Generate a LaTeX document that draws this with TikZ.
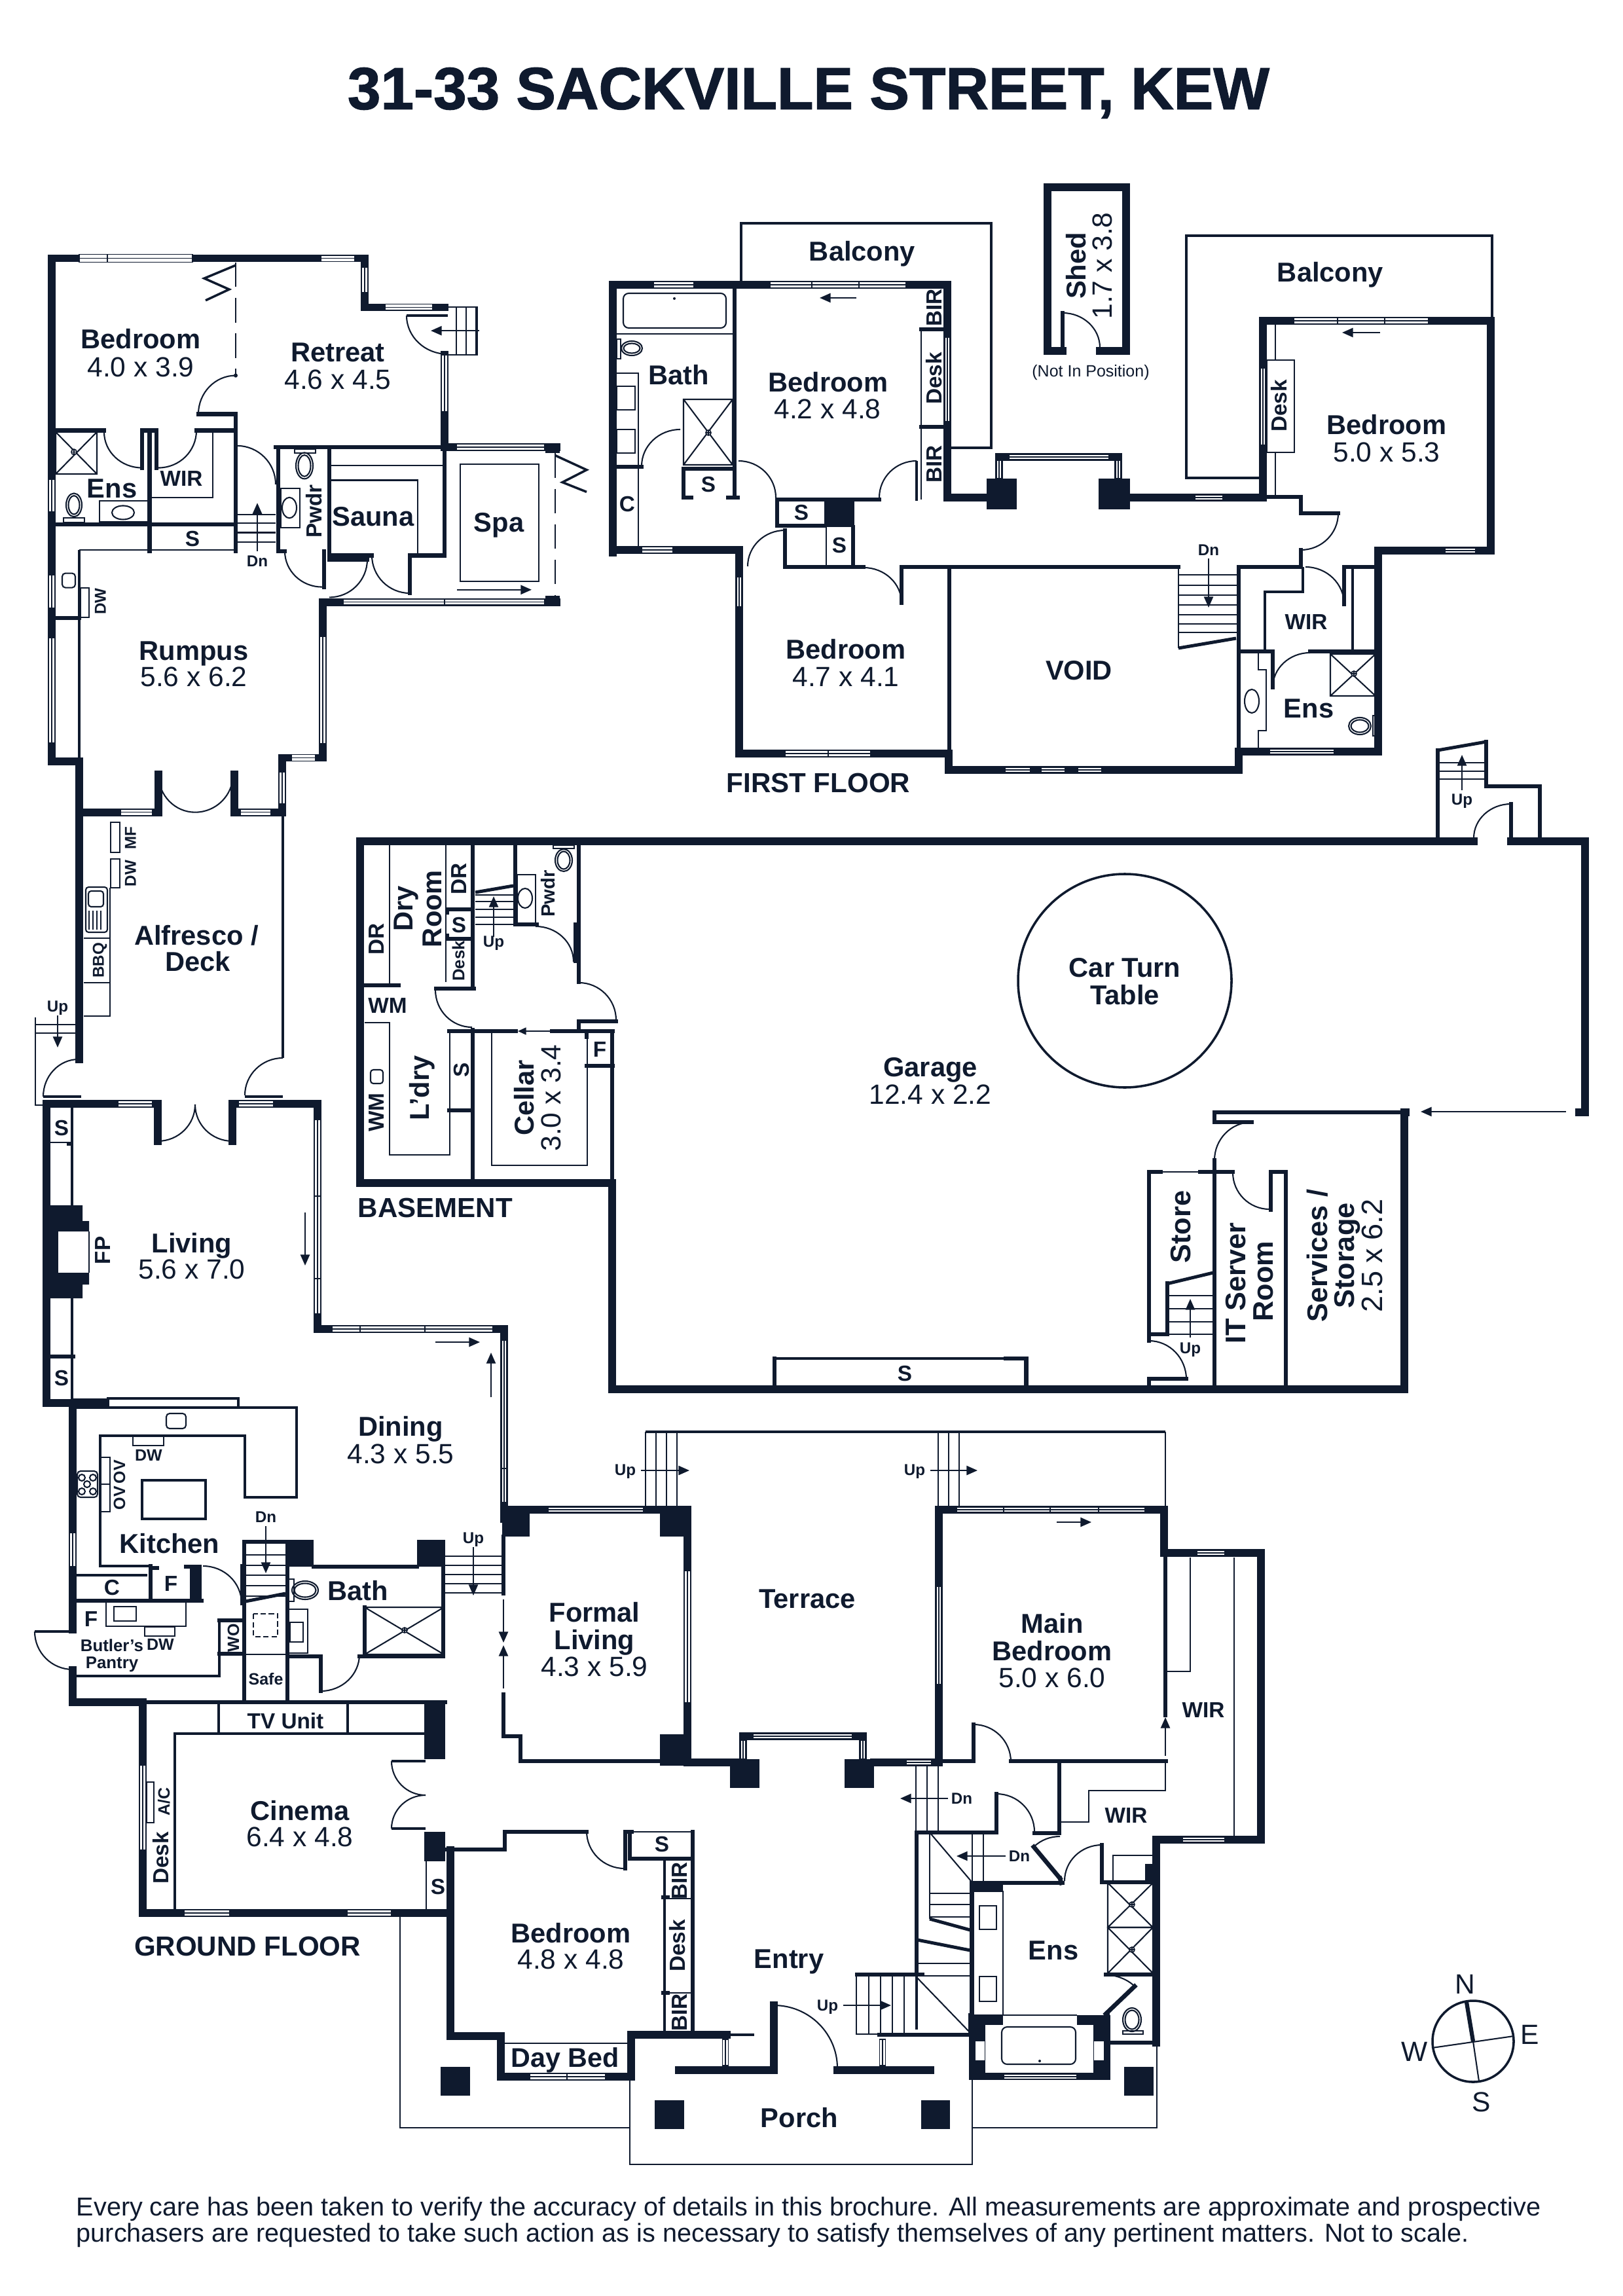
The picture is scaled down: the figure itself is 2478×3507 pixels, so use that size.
\documentclass[tikz,border=0pt]{standalone}
\usepackage{fontspec}
\setmainfont{Liberation Sans}
\newfontfamily\heavyfont[BoldFeatures={FakeBold=1.4}]{Liberation Sans}
\usetikzlibrary{arrows.meta}
\definecolor{ink}{HTML}{0F1A2E}
\tikzset{
  wall/.style={draw=ink,line width=2.8pt,line cap=rect,line join=miter},
  walls/.style={draw=ink,line width=1.6pt,line cap=rect,line join=miter},
  rail/.style={draw=ink,line width=0.85pt},
  hair/.style={draw=ink,line width=0.5pt},
  pane/.style={draw=ink,line width=0.3pt},
  slide/.style={draw=ink,line width=0.5pt,-{Triangle[length=4pt,width=3.4pt]}},
  lab/.style={text=ink,inner sep=0pt,text depth=0pt,text height=0.72*#1pt,font=\fontsize{#1}{#1}\selectfont\bfseries},
  reg/.style={text=ink,inner sep=0pt,text depth=0pt,text height=0.72*#1pt,font=\fontsize{#1}{#1}\selectfont},
  room/.style={lab=10},
  dims/.style={reg=10.2},
  tag/.style={lab=8},
  wee/.style={lab=5.8},
  small/.style={lab=6},
  level/.style={lab=10.1},
  rise/.style={rotate=90}
}
\newcommand{\winH}[4]{\fill[white] ({#1},{#3-#4/2}) rectangle ({#2},{#3+#4/2}); \draw[pane] ({#1},{#3-#4/2}) rectangle ({#2},{#3+#4/2}); \draw[pane] ({#1},#3) -- ({#2},#3);}
\newcommand{\winV}[4]{\fill[white] ({#3-#4/2},{#1}) rectangle ({#3+#4/2},{#2}); \draw[pane] ({#3-#4/2},{#1}) rectangle ({#3+#4/2},{#2}); \draw[pane] (#3,{#1}) -- (#3,{#2});}
\newcommand{\door}[6]{\draw[hair] (#1,#2) .. controls ({#1+.5523*(#3-#5)},{#2+.5523*(#4-#6)}) and ({#3+.5523*(#1-#5)},{#4+.5523*(#2-#6)}) .. (#3,#4);}
\newcommand{\block}[4]{\fill[ink] (#1,#2) rectangle (#3,#4);}
\newcommand{\shower}[6]{\draw[hair] (#1,#2) rectangle (#3,#4) (#1,#2) -- (#3,#4) (#1,#4) -- (#3,#2); \fill[white,draw=ink,line width=0.4pt] (#5,#6) circle [radius=4]; \draw[ink,line width=0.3pt] (#5-4,#6) -- (#5+4,#6) (#5,#6-4) -- (#5,#6+4);}
\newcommand{\loo}[4]{\draw[hair] (#1,#2) ellipse [x radius=#3,y radius=#4]; \draw[hair] (#1,#2) ellipse [x radius=#3-3.5,y radius=#4-3.5];}
\begin{document}
\begin{tikzpicture}[x=0.24pt,y=-0.24pt]
  \useasboundingbox (0,0) rectangle (2478,3507);
  \fill[white] (0,0) rectangle (2478,3507);
  \node[text=ink,inner sep=0pt,text depth=0pt,text height=15.7pt,font=\fontsize{21.8}{22}\selectfont\heavyfont\bfseries] (title) at (1235,134) {31-33 SACKVILLE STREET, KEW};
  \begin{scope}[y=-0.25255pt,yshift=3.77pt]
  \draw[wall] (79,390) -- (557,390) -- (557,461) -- (679,461);
  \draw[wall] (679,530) -- (679,664);
  \draw[wall] (79,390) -- (79,1120) -- (121,1120) -- (121,1194);
  \draw[wall] (121,1194) -- (242,1194) -- (242,1139);
  \draw[wall] (358,1139) -- (358,1194) -- (431,1194) -- (431,1115) -- (493,1115) -- (493,889) -- (850,889);
  \draw[wall] (679,664) -- (850,664);
  \block{833}{659}{855}{673}
  \block{833}{880}{855}{894}
  \draw[walls] (421,664) -- (679,664) -- (679,821) -- (626,821) -- (626,876);
  \draw[walls] (503,664) -- (503,821) -- (568,821);
  \draw[walls] (503,827) -- (561,827);
  \draw[walls] (495,815) -- (495,867);
  \draw[walls] (425,664) -- (425,815) -- (435,815);
  \draw[walls] (303,616) -- (360,616) -- (360,815);
  \draw[walls] (85,640) -- (159,640);
  \draw[walls] (217,694) -- (217,640) -- (239,640) -- (239,694);
  \draw[walls] (300,640) -- (358,640);
  \draw[walls] (228.5,640) -- (228.5,815);
  \draw[walls] (85,776) -- (360,776);
  \draw[hair] (325,642) -- (325,737) -- (230,737);
  \draw[hair] (121,813) -- (358,813);
  \draw[rail] (121,813) -- (121,1115);
  \draw[walls] (85,912) -- (121,912);
  \draw[hair,dashed,dash pattern=on 9pt off 4pt] (360,396) -- (360,560);
  \fill[ink] (360,560) circle [radius=3];
  \draw[rail] (360,400) -- (312,419) -- (350,435) -- (314,451);
  \door{360}{560}{303}{616}{360}{616}
  \door{159}{642}{217}{694}{217}{642}
  \door{300}{640}{242}{694}{242}{640}
  \door{362}{662}{421}{718}{362}{718}
  \door{435}{815}{492}{867}{492}{815}
  \door{568}{821}{626}{876}{626}{821}
  \door{561}{827}{503}{882}{503}{827}
  \door{621}{473}{684}{529}{684}{473}
  \draw[rail] (621,473) -- (684,473);
  \door{242}{1139}{298}{1194}{298}{1139}
  \door{356}{1139}{298}{1194}{298}{1139}
  \shower{85}{642}{148}{703}{113}{671}
  \loo{113}{748}{12}{17}
  \draw[hair] (97,767) rectangle (129,773);
  \draw[hair] (152,742) rectangle (226,772);
  \draw[hair] (188,759) ellipse [x radius=17,y radius=10];
  \foreach \t in {762,774,788,802} \draw[hair] (363,\t) -- (421,\t);
  \draw[slide] (393,815) -- (393,745);
  \loo{465}{691}{13}{19}
  \draw[hair] (450,667) rectangle (482,673);
  \draw[hair] (429,724) rectangle (458,781);
  \draw[hair] (442,752) ellipse [x radius=11,y radius=15];
  \draw[hair] (506,691) -- (676,691);
  \draw[hair] (506,712) -- (638,712) -- (638,820);
  \draw[hair] (703,689) rectangle (823,859);
  \draw[slide] (698,871) -- (812,871);
  \draw[hair,dash pattern=on 9pt off 4pt] (848,673) -- (848,880);
  \draw[rail] (848,676) -- (896,697) -- (859,715) -- (896,729);
  \draw[hair] (684,461) -- (729,461) -- (729,530) -- (684,530);
  \foreach \t in {697,712,727} \draw[hair] (\t,461) -- (\t,530);
  \draw[slide] (732,495) -- (658,495);
  \draw[hair,rounded corners=1.2pt] (95,847) rectangle (115,868);
  \draw[hair] (123,868) rectangle (136,911);
  \winH{121}{294}{390}{11}
  \draw[pane] (164,385) -- (164,395);
  \winH{490}{542}{390}{9}
  \winV{403}{439}{557}{9}
  \winH{588}{661}{461}{9}
  \winV{530}{612}{679}{9}
  \winV{711}{758}{79}{9}
  \winV{850}{897}{79}{9}
  \winV{941}{1093}{79}{9}
  \winV{939}{1094}{493}{9}
  \winH{445}{482}{1115}{9}
  \winV{1136}{1182}{431}{9}
  \winH{184}{233}{1194}{9}
  \winH{367}{414}{1194}{9}
  \winH{697}{832}{664}{8}
  \winH{524}{832}{889}{8}
  \draw[pane] (679,885) -- (679,893);
  \node[room] (bedW) at (215,507) {Bedroom};
  \node[dims] (bedWdims) at (215,547) {4.0 x 3.9};
  \node[room] (retreat) at (516,526) {Retreat};
  \node[dims] (retreatdims) at (516,565) {4.6 x 4.5};
  \node[room] (ensW) at (171,723) {Ens};
  \node[tag] (wirW) at (277,709) {WIR};
  \node[tag] (closetW) at (294,797) {S};
  \node[wee] (dnW) at (393,829) {Dn};
  \node[tag,rise] (pwdrW) at (479,757) {Pwdr};
  \node[room] (sauna) at (570,764) {Sauna};
  \node[room] (spa) at (762,773) {Spa};
  \node[wee,rise] (dwW) at (153,888) {DW};
  \node[room] (rumpus) at (296,959) {Rumpus};
  \node[dims] (rumpusdims) at (296,997) {5.6 x 6.2};
  \end{scope}
  \draw[wall] (121,1240) -- (121,1618);
  \draw[rail] (432,1240) -- (432,1616);
  \draw[wall] (71,1686) -- (241,1686) -- (241,1743);
  \draw[wall] (355,1743) -- (355,1686) -- (485,1686) -- (485,2030) -- (770,2030) -- (770,2320);
  \draw[rail] (374,1675) -- (432,1675);
  \draw[rail] (66,1675) -- (124,1675);
  \door{120}{1618}{66}{1675}{120}{1675}
  \door{432}{1616}{374}{1673}{432}{1673}
  \door{241}{1743}{298}{1687}{241}{1687}
  \door{355}{1743}{298}{1687}{355}{1687}
  \draw[hair] (54,1554) -- (54,1688) -- (66,1688);
  \foreach \t in {1565,1578} \draw[hair] (54,\t) -- (117,\t);
  \draw[slide] (88,1551) -- (88,1600);
  \draw[hair] (128,1552) -- (168,1552) -- (168,1356);
  \draw[hair] (128,1501) -- (168,1501);
  \draw[hair] (128,1433) -- (168,1433);
  \draw[hair] (169,1256) rectangle (183,1302);
  \draw[hair] (169,1312) rectangle (183,1356);
  \draw[hair,rounded corners=1pt] (131,1355) rectangle (164,1424);
  \draw[hair,rounded corners=1pt] (135,1361) rectangle (158,1385);
  \foreach \t in {136,142,148,154} \draw[hair] (\t,1391) -- (\t,1420);
  \draw[wall] (71,1686) -- (71,2143) -- (111,2143) -- (111,2489);
  \draw[wall] (111,2551) -- (111,2600) -- (218,2600) -- (218,2922) -- (688,2922);
  \draw[rail] (110,1692) -- (110,1841);
  \draw[rail] (110,1983) -- (110,2143);
  \draw[hair] (77,1745) -- (110,1745);
  \block{102}{1745}{112}{1750}
  \draw[walls] (77,2072) -- (112,2072);
  \fill[ink] (77,1841) -- (126,1841) -- (126,1865) -- (136,1865) -- (136,1962) -- (126,1962) -- (126,1983) -- (77,1983) -- cycle;
  \fill[white] (89,1881) rectangle (136,1944);
  \draw[ink,line width=0.5pt] (136,1881) -- (136,1944);
  \winH{180}{233}{1686}{9}
  \winH{364}{418}{1686}{9}
  \winV{1710}{2007}{485}{9}
  \draw[pane] (480,1827) -- (490,1827) (480,1953) -- (490,1953);
  \winH{507}{753}{2030}{9}
  \draw[pane] (550,2026) -- (550,2034) (649,2026) -- (649,2034);
  \winV{2047}{2295}{770}{8}
  \draw[pane] (766,2243) -- (774,2243);
  \draw[slide] (466,1852) -- (466,1933);
  \draw[slide] (665,2050) -- (733,2050);
  \draw[slide] (750,2134) -- (750,2066);
  \node[wee,rise] (mfA) at (199,1280) {MF};
  \node[wee,rise] (dwA) at (199,1334) {DW};
  \node[wee,rise] (bbq) at (150,1467) {BBQ};
  \node[wee] (upA) at (88,1537) {Up};
  \node[room] (alfresco) at (300,1428) {Alfresco /};
  \node[room] (deck) at (302,1468) {Deck};
  \node[tag] (closetL) at (94,1722) {S};
  \node[tag] (closetM) at (94,2104) {S};
  \node[tag,rise] (fp) at (156,1910) {FP};
  \node[room] (living) at (293,1898) {Living};
  \node[dims] (livingdims) at (293,1938) {5.6 x 7.0};
  \node[room] (dining) at (612,2178) {Dining};
  \node[dims] (diningdims) at (612,2220) {4.3 x 5.5};
  \draw[rail] (165,2136) rectangle (364,2150);
  \block{111}{2136}{165}{2150}
  \draw[rail] (117,2150) -- (453,2150) -- (453,2287) -- (374,2287) -- (374,2193) -- (153,2193) -- (153,2392) -- (229,2392);
  \draw[hair,rounded corners=1.2pt] (254,2159) rectangle (284,2182);
  \draw[hair] (203,2194) rectangle (250,2208);
  \draw[hair] (153,2226) rectangle (168,2267) (153,2267) rectangle (168,2309);
  \draw[hair,rounded corners=1.2pt] (118,2247) rectangle (149,2287);
  \foreach \cx/\cy in {125/2257,142/2257,133/2267,125/2278,142/2278} \draw[hair] (\cx,\cy) circle [radius=5];
  \draw[rail] (217,2261) rectangle (314,2320);
  \winV{2341}{2393}{111}{9}
  \draw[rail] (117,2406) -- (225,2406);
  \draw[walls] (111,2445) -- (308,2445);
  \draw[walls] (230,2392) -- (230,2445);
  \draw[walls] (230,2395) -- (240,2395);
  \block{281}{2390}{308}{2396}
  \block{290}{2390}{308}{2448}
  \draw[hair] (162,2448) -- (162,2484) -- (284,2484) -- (284,2448);
  \draw[hair] (174,2454) rectangle (208,2476);
  \draw[hair] (221,2485) rectangle (267,2499);
  \draw[rail] (53,2492) -- (111,2492);
  \door{53}{2492}{111}{2550}{111}{2492}
  \draw[rail] (117,2560) -- (335,2560) -- (335,2475);
  \draw[walls] (335,2475) -- (372,2475);
  \draw[walls] (335,2526) -- (372,2526);
  \door{310}{2392}{369}{2449}{310}{2449}
  \draw[walls] (370,2392) -- (370,2449);
  \draw[walls] (373,2355) -- (373,2600);
  \draw[walls] (373,2355) -- (439,2355) -- (439,2600);
  \foreach \t in {2375,2391,2406,2422,2438} \draw[hair] (375,\t) -- (436,\t);
  \draw[ink,line width=1.2pt] (375,2446) -- (436,2434);
  \draw[slide] (406,2331) -- (406,2403);
  \block{436}{2352}{479}{2393}
  \block{637}{2352}{680}{2393}
  \draw[walls] (479,2393) -- (637,2393);
  \draw[walls] (677,2393) -- (677,2530) -- (549,2530);
  \draw[walls] (439,2530) -- (490,2530) -- (490,2583);
  \door{490}{2583}{549}{2527}{490}{2527}
  \draw[hair] (375,2527) -- (436,2527);
  \draw[hair,dash pattern=on 2pt off 1pt] (387,2465) rectangle (424,2500);
  \draw[hair] (440,2412) rectangle (449,2446);
  \loo{466}{2429}{20}{14}
  \draw[hair] (440,2458) rectangle (470,2525);
  \draw[hair] (443,2478) rectangle (463,2508);
  \draw[walls] (557,2527) -- (557,2455);
  \shower{557}{2455}{678}{2527}{618}{2490}
  \foreach \t in {2377,2391,2405,2419,2433} \draw[hair] (680,\t) -- (767,\t);
  \draw[slide] (723,2363) -- (723,2437);
  \draw[walls] (218,2600) -- (680,2600);
  \block{648}{2597}{680}{2687}
  \block{648}{2798}{680}{2843}
  \draw[rail] (267,2916) -- (267,2648) -- (648,2648);
  \draw[rail] (334,2603) -- (334,2648);
  \draw[rail] (531,2603) -- (531,2648);
  \draw[hair] (224,2722) rectangle (235,2784);
  \draw[rail] (598,2690) -- (650,2690);
  \draw[rail] (598,2793) -- (650,2793);
  \door{598}{2690}{650}{2742}{650}{2690}
  \door{598}{2793}{650}{2742}{650}{2793}
  \draw[hair] (651,2843) -- (651,2916);
  \winV{2696}{2826}{218}{9}
  \winH{281}{351}{2922}{9}
  \winH{530}{598}{2922}{9}
  \draw[wall] (688,2826) -- (688,3110) -- (765,3110) -- (765,3172) -- (964,3172) -- (964,3108) -- (1110,3108);
  \draw[rail] (1110,3108) -- (1152,3108);
  \draw[walls] (680,2825) -- (771,2825) -- (771,2798) -- (896,2798);
  \door{896}{2797}{954}{2854}{954}{2797}
  \draw[walls] (955,2854) -- (955,2798) -- (965,2798);
  \draw[walls] (962,2798) -- (962,2839) -- (1058,2839);
  \draw[hair] (965,2798) -- (1058,2798);
  \draw[walls] (1058,2798) -- (1058,3106);
  \draw[rail] (1015,2841) -- (1015,3104);
  \draw[hair] (1015,2900) -- (1058,2900) (1015,3044) -- (1058,3044);
  \draw[walls] (1013,2898) -- (1020,2898) (1013,3044) -- (1020,3044);
  \draw[hair] (771,3121) -- (958,3121);
  \winH{809}{925}{3172}{9}
  \draw[pane] (866,3168) -- (866,3176);
  \draw[rail] (986,2187) -- (1780,2187);
  \draw[hair] (1780,2187) -- (1780,2300);
  \foreach \t in {986,1002,1018,1034,1433,1449,1465} \draw[hair] (\t,2187) -- (\t,2300);
  \draw[slide] (979,2246) -- (1053,2246);
  \draw[slide] (1421,2246) -- (1493,2246);
  \block{767}{2302}{809}{2347}
  \block{1008}{2302}{1055}{2347}
  \block{1008}{2649}{1055}{2697}
  \draw[wall] (770,2306) -- (1050,2306) -- (1050,2692) -- (1130,2692);
  \draw[walls] (769,2347) -- (769,2434);
  \draw[walls] (769,2588) -- (769,2652) -- (795,2652) -- (795,2690) -- (1008,2690);
  \draw[slide] (769,2443) -- (769,2509);
  \draw[slide] (769,2579) -- (769,2513);
  \winH{837}{983}{2306}{8}
  \winV{2399}{2601}{1050}{9}
  \block{1115}{2687}{1160}{2731}
  \block{1290}{2687}{1335}{2731}
  \draw[wall] (1135,2687) -- (1135,2652) -- (1318,2652) -- (1318,2687);
  \draw[wall] (1335,2692) -- (1430,2692);
  \winH{1150}{1302}{2652}{7}
  \winV{2658}{2687}{1135}{7}
  \winV{2658}{2687}{1318}{7}
  \winH{1384}{1423}{2692}{8}
  \draw[wall] (1434,2692) -- (1434,2306) -- (1778,2306) -- (1778,2372) -- (1926,2372) -- (1926,2810) -- (1766,2810) -- (1766,3120);
  \draw[walls] (1780,2377) -- (1780,2620);
  \draw[walls] (1434,2690) -- (1487,2690) -- (1487,2634);
  \draw[walls] (1544,2690) -- (1781,2690);
  \door{1487}{2634}{1544}{2691}{1487}{2691}
  \draw[hair] (1818,2379) -- (1818,2553) -- (1783,2553);
  \draw[hair] (1885,2379) -- (1885,2804);
  \draw[slide] (1780,2682) -- (1780,2623);
  \draw[hair] (1780,2693) -- (1780,2735) -- (1663,2735) -- (1663,2783) -- (1621,2783);
  \draw[walls] (1618,2693) -- (1618,2800) -- (1580,2800);
  \draw[walls] (1400,3016) -- (1400,2799) -- (1522,2799) -- (1522,2740);
  \door{1522}{2740}{1580}{2798}{1522}{2798}
  \foreach \t in {1399,1416,1433} \draw[hair] (\t,2697) -- (\t,2798);
  \draw[slide] (1448,2747) -- (1375,2747);
  \draw[hair] (1420,2799) -- (1483,2873);
  \foreach \t in {1485,1502} \draw[hair] (\t,2800) -- (\t,2873);
  \draw[slide] (1536,2835) -- (1461,2835);
  \draw[hair] (1420,2799) -- (1420,2931);
  \foreach \t in {2892,2909,2928} \draw[hair] (1420,\t) -- (1482,\t);
  \draw[ink,line width=1.2pt] (1420,2931) -- (1482,2948);
  \draw[ink,line width=1.2pt] (1401,2963) -- (1482,2979);
  \foreach \t in {2999,3018} \draw[hair] (1403,\t) -- (1482,\t);
  \draw[hair] (1399,3019) -- (1482,3105);
  \draw[walls] (1484,2876) -- (1623,2876);
  \draw[walls] (1484,2876) -- (1484,3078);
  \block{1482}{2873}{1532}{2889}
  \draw[walls] (1579,2821) -- (1619,2869);
  \draw[hair] (1579,2821) .. controls (1590,2810) and (1605,2805) .. (1619,2805);
  \draw[walls] (1619,2869) -- (1621,2876);
  \door{1626}{2873}{1683}{2818}{1683}{2873}
  \draw[walls] (1683,2818) -- (1683,2875) -- (1762,2875);
  \draw[hair] (1700,2873) -- (1700,2834) -- (1761,2834);
  \block{1749}{2847}{1761}{2873}
  \shower{1692}{2876}{1761}{2944}{1729}{2909}
  \shower{1692}{2944}{1761}{3014}{1729}{2978}
  \draw[walls] (1689,3016) -- (1761,3016);
  \draw[hair] (1689,3016) .. controls (1705,3017) and (1722,3023) .. (1733,3034);
  \draw[walls] (1733,3034) -- (1689,3076);
  \loo{1729}{3085}{14}{18}
  \draw[hair] (1715,3102) rectangle (1746,3107);
  \draw[hair] (1487,2889) rectangle (1532,3078);
  \draw[hair] (1496,2911) rectangle (1522,2947);
  \draw[hair] (1496,3019) rectangle (1522,3057);
  \draw[walls] (1692,3078) -- (1692,3120) -- (1766,3120);
  \fill[ink] (1480,3078) rectangle (1532,3093);
  \fill[ink] (1645,3078) rectangle (1696,3093);
  \fill[ink] (1480,3078) rectangle (1505,3177);
  \fill[ink] (1670,3078) rectangle (1696,3177);
  \fill[ink] (1480,3166) rectangle (1696,3177);
  \draw[hair] (1532,3078) -- (1645,3078);
  \fill[white] (1490,3118) rectangle (1504,3147);
  \fill[white] (1671,3118) rectangle (1686,3147);
  \draw[hair,rounded corners=2pt] (1530,3096) rectangle (1643,3153);
  \fill[ink] (1588,3148) circle [radius=2];
  \winH{1533}{1645}{3172}{8}
  \draw[walls] (1482,3078) -- (1482,3108) -- (1343,3108);
  \draw[walls] (1409,3016) -- (1309,3016);
  \draw[rail] (1400,3016) -- (1400,3100);
  \foreach \t in {1327,1345,1363,1381} \draw[hair] (\t,3018) -- (\t,3107);
  \draw[hair] (1308,3018) -- (1308,3107) -- (1343,3107);
  \draw[slide] (1288,3063) -- (1361,3063);
  \draw[wall] (1037,3162) -- (1182,3162) -- (1182,3063);
  \door{1182}{3063}{1279}{3159}{1182}{3159}
  \draw[wall] (1279,3162) -- (1421,3162);
  \winV{3115}{3155}{1108}{9}
  \winV{3115}{3155}{1348}{9}
  \winV{2423}{2573}{1434}{8}
  \winH{1461}{1749}{2306}{8}
  \foreach \t in {1533,1604,1678} \draw[pane] (\t,2302) -- (\t,2310);
  \winH{1828}{1871}{2372}{8}
  \winH{1806}{1871}{2810}{8}
  \draw[slide] (1614,2325) -- (1667,2325);
  \draw[hair] (962,3177) -- (962,3306) -- (1485,3306) -- (1485,3177);
  \draw[hair] (611,2928) -- (611,3250) -- (962,3250);
  \draw[hair] (1485,3250) -- (1767,3250) -- (1767,3120);
  \block{673}{3157}{718}{3201}
  \block{1000}{3208}{1045}{3252}
  \block{1407}{3208}{1451}{3252}
  \block{1717}{3157}{1762}{3201}
  \node[small] (dw) at (227,2222) {DW};
  \node[small,rise] (ovA) at (182,2248) {OV};
  \node[small,rise] (ovB) at (182,2288) {OV};
  \node[room] (kitchen) at (259,2357) {Kitchen};
  \node[tag] (cupboard) at (171,2424) {C};
  \node[tag] (fridgeA) at (261,2418) {F};
  \node[tag] (fridgeB) at (139,2472) {F};
  \node[small] (dwB) at (245,2511) {DW};
  \node[lab=6.2] (butler) at (171,2513) {Butler’s};
  \node[lab=6.2] (pantry) at (171,2539) {Pantry};
  \node[small,rise] (wo) at (356,2502) {WO};
  \node[wee] (dnK) at (406,2317) {Dn};
  \node[small] (safe) at (406,2564) {Safe};
  \node[room] (bathG) at (547,2429) {Bath};
  \node[wee] (upD) at (723,2349) {Up};
  \node[tag] (tvunit) at (436,2628) {TV Unit};
  \node[small,rise] (ac) at (250,2752) {A/C};
  \node[tag,rise] (deskC) at (245,2838) {Desk};
  \node[room] (cinema) at (458,2765) {Cinema};
  \node[dims] (cinemadims) at (458,2805) {6.4 x 4.8};
  \node[tag] (closetC) at (669,2881) {S};
  \node[level] (ground) at (378,2972) {GROUND FLOOR};
  \node[room] (formal) at (908,2462) {Formal};
  \node[room] (formalB) at (908,2504) {Living};
  \node[dims] (formaldims) at (908,2545) {4.3 x 5.9};
  \node[room] (terrace) at (1233,2441) {Terrace};
  \node[wee] (upF) at (955,2245) {Up};
  \node[wee] (upT) at (1397,2245) {Up};
  \node[room] (main) at (1607,2479) {Main};
  \node[room] (mainB) at (1607,2521) {Bedroom};
  \node[dims] (maindims) at (1607,2562) {5.0 x 6.0};
  \node[tag] (wirM) at (1838,2611) {WIR};
  \node[tag] (wirN) at (1720,2772) {WIR};
  \node[wee] (dnE) at (1469,2747) {Dn};
  \node[wee] (dnF) at (1557,2835) {Dn};
  \node[room] (ensM) at (1609,2978) {Ens};
  \node[tag] (closetG) at (1011,2816) {S};
  \node[tag,rise] (birA) at (1037,2873) {BIR};
  \node[tag,rise] (deskG) at (1034,2972) {Desk};
  \node[tag,rise] (birB) at (1037,3074) {BIR};
  \node[room] (bedG) at (872,2952) {Bedroom};
  \node[dims] (bedGdims) at (872,2992) {4.8 x 4.8};
  \node[lab=9.9] (daybed) at (863,3143) {Day Bed};
  \node[room] (entry) at (1205,2991) {Entry};
  \node[wee] (upG) at (1264,3063) {Up};
  \node[room] (porch) at (1221,3234) {Porch};
  \draw[wall] (550,1285) -- (2251,1285);
  \draw[wall] (2308,1285) -- (2421,1285) -- (2421,1699);
  \block{2406}{1693}{2426}{1705}
  \draw[wall] (550,1285) -- (550,1807) -- (935,1807) -- (935,2122) -- (2145,2122) -- (2145,1699);
  \block{2139}{1693}{2153}{1705}
  \draw[slide] (2392,1698) -- (2170,1698);
  \draw[walls] (722,1291) -- (722,1510);
  \draw[walls] (722,1573) -- (722,1803);
  \draw[hair] (595,1291) -- (595,1505);
  \draw[walls] (557,1505) -- (609,1505);
  \draw[hair] (557,1562) -- (595,1562) -- (595,1764) -- (687,1764) -- (687,1576);
  \draw[walls] (686,1575) -- (722,1575);
  \draw[walls] (686,1696) -- (722,1696);
  \draw[hair] (681,1291) -- (681,1500);
  \draw[walls] (683,1389) -- (722,1389) (683,1434) -- (722,1434) (683,1389) -- (683,1394) (683,1429) -- (683,1434);
  \draw[walls] (666,1510) -- (724,1510);
  \door{665}{1512}{721}{1569}{721}{1512}
  \draw[walls] (722,1575) -- (788,1575);
  \draw[walls] (843,1575) -- (936,1575);
  \draw[hair,-{Triangle[length=3pt,width=2.6pt]}] (842,1575) -- (791,1575);
  \draw[walls] (935,1575) -- (935,1807);
  \draw[hair] (897,1575) -- (897,1780) -- (751,1780) -- (751,1578);
  \draw[walls] (896,1628) -- (936,1628);
  \draw[walls] (896,1578) -- (896,1584);
  \draw[walls] (787,1291) -- (787,1412) -- (820,1412);
  \foreach \t in {1367,1377,1389,1401,1412} \draw[hair] (726,\t) -- (784,\t);
  \draw[ink,line width=1.2pt] (726,1363) -- (784,1353);
  \draw[slide] (754,1431) -- (754,1369);
  \draw[hair] (790,1336) rectangle (818,1410);
  \draw[hair] (802,1372) ellipse [x radius=11,y radius=15];
  \loo{861}{1314}{13}{17}
  \draw[hair] (845,1291) rectangle (877,1296);
  \draw[walls] (884,1291) -- (884,1500);
  \draw[walls] (879,1412) -- (879,1468);
  \door{818}{1415}{876}{1469}{818}{1469}
  \door{884}{1501}{941}{1558}{884}{1558}
  \draw[walls] (884,1574) -- (884,1560) -- (941,1560);
  \node[tag,rise] (drA) at (574,1434) {DR};
  \node[room,rise] (dry) at (615,1388) {Dry};
  \node[room,rise] (roomB) at (659,1388) {Room};
  \node[tag,rise] (drB) at (700,1342) {DR};
  \node[tag] (closetB) at (701,1412) {S};
  \node[lab=6.2,rise] (deskB) at (700,1468) {Desk};
  \node[tag] (wmA) at (592,1535) {WM};
  \node[tag,rise] (wmB) at (574,1699) {WM};
  \draw[hair,rounded corners=1pt] (566,1634) rectangle (585,1655);
  \node[room,rise] (ldry) at (640,1662) {L’dry};
  \node[tag,rise] (closetD) at (704,1634) {S};
  \node[room,rise] (cellar) at (800,1677) {Cellar};
  \node[dims,rise] (cellardims) at (841,1677) {3.0 x 3.4};
  \node[tag] (fridgeD) at (916,1602) {F};
  \node[wee] (upB) at (754,1438) {Up};
  \node[lab=7,rise] (pwdrB) at (837,1365) {Pwdr};
  \node[level] (basement) at (665,1844) {BASEMENT};
  \node[room] (garage) at (1421,1629) {Garage};
  \node[dims] (garagedims) at (1421,1671) {12.4 x 2.2};
  \draw[rail] (1718,1498) circle [radius=163];
  \node[room] (turn) at (1718,1477) {Car Turn};
  \node[room] (table) at (1718,1519) {Table};
  \draw[rail] (1183,2122) -- (1183,2075) -- (1566,2075) -- (1566,2122);
  \draw[walls] (1536,2075) -- (1568,2075) -- (1568,2120);
  \draw[walls] (1183,2075) -- (1183,2120);
  \node[tag] (bench) at (1382,2097) {S};
  \draw[walls] (1855,2116) -- (1855,1772);
  \door{1912}{1714}{1855}{1772}{1912}{1772}
  \draw[walls] (1855,1699) -- (2145,1699);
  \draw[walls] (1855,1699) -- (1855,1714) -- (1912,1714);
  \draw[walls] (1755,2048) -- (1755,1790) -- (1773,1790);
  \draw[hair] (1773,1790) -- (1833,1790);
  \draw[walls] (1833,1790) -- (1883,1790);
  \door{1883}{1791}{1939}{1847}{1939}{1791}
  \draw[walls] (1941,1848) -- (1941,1790) -- (1964,1790) -- (1964,2118);
  \draw[walls] (1783,1960) -- (1783,2038) -- (1755,2038);
  \draw[ink,line width=1.2pt] (1782,1961) -- (1853,1944);
  \foreach \t in {1979,1999,2019,2038} \draw[hair] (1785,\t) -- (1853,\t);
  \draw[slide] (1818,2043) -- (1818,1984);
  \door{1755}{2048}{1812}{2107}{1755}{2107}
  \draw[walls] (1812,2106) -- (1755,2106) -- (1755,2118);
  \node[wee] (upC) at (1818,2059) {Up};
  \node[lab=10.4,rise] (store) at (1803,1874) {Store};
  \node[lab=10.4,rise] (server) at (1887,1960) {IT Server};
  \node[lab=10.4,rise] (roomC) at (1929,1957) {Room};
  \node[lab=10.4,rise] (services) at (2012,1918) {Services /};
  \node[lab=10.4,rise] (storage) at (2053,1918) {Storage};
  \node[reg=10.8,rise] (storagedims) at (2095,1918) {2.5 x 6.2};
  \draw[walls] (2196,1285) -- (2196,1146);
  \draw[ink,line width=1.2pt] (2196,1146) -- (2270,1133);
  \draw[walls] (2270,1133) -- (2270,1201) -- (2352,1201) -- (2352,1285);
  \foreach \t in {1165,1178,1190} \draw[hair] (2198,\t) -- (2270,\t);
  \draw[slide] (2233,1207) -- (2233,1153);
  \node[wee] (upH) at (2233,1221) {Up};
  \door{2251}{1280}{2308}{1228}{2308}{1280}
  \draw[walls] (2308,1285) -- (2308,1228);
  \draw[wall] (936,844) -- (936,435) -- (1447,435) -- (1447,760) -- (1509,760);
  \draw[wall] (936,840) -- (1129,840) -- (1129,1151) -- (1449,1151) -- (1449,1176) -- (1892,1176) -- (1892,1148) -- (2105,1148) -- (2105,841) -- (2277,841) -- (2277,490) -- (1929,490) -- (1929,760) -- (1726,760);
  \block{1507}{731}{1553}{778}
  \block{1678}{731}{1726}{778}
  \draw[wall] (1526,731) -- (1526,698) -- (1708,698) -- (1708,731);
  \winH{1541}{1694}{698}{7}
  \winV{703}{731}{1526}{7}
  \winV{703}{731}{1708}{7}
  \winH{998}{1060}{435}{9}
  \winH{1176}{1384}{435}{9}
  \draw[pane] (1240,431) -- (1240,440) (1312,431) -- (1312,440);
  \winV{515}{644}{1447}{8}
  \winH{1825}{1868}{760}{8}
  \winV{562}{680}{1929}{8}
  \winH{1976}{2182}{490}{9}
  \draw[pane] (2043,486) -- (2043,495) (2115,486) -- (2115,495);
  \winH{2207}{2254}{841}{8}
  \winH{1939}{2038}{1148}{8}
  \foreach \a/\b in {1535/1574,1590/1627,1646/1683} {\winH{\a}{\b}{1176}{8}}
  \winH{1199}{1330}{1151}{9}
  \draw[pane] (1265,1147) -- (1265,1155);
  \winV{881}{927}{1129}{8}
  \winH{980}{1028}{840}{9}
  \draw[slide] (2108,508) -- (2050,508);
  \draw[slide] (1308,455) -- (1252,455);
  \draw[walls] (1122,441) -- (1122,760);
  \draw[walls] (1199,810) -- (1199,866) -- (1319,866);
  \door{1199}{810}{1142}{865}{1199}{865}
  \door{1319}{867}{1377}{921}{1319}{921}
  \draw[walls] (1377,921) -- (1377,866) -- (1800,866);
  \draw[walls] (1893,866) -- (1987,866) -- (1987,840);
  \door{2044}{784}{1987}{840}{1987}{784}
  \draw[walls] (1935,759) -- (1987,759) -- (1987,784) -- (2044,784);
  \draw[walls] (1450,866) -- (1450,1150);
  \foreach \t in {878,894,909,924,939,953,966} \draw[hair] (1800,\t) -- (1892,\t);
  \draw[hair] (1800,866) -- (1800,990);
  \draw[ink,line width=1.2pt] (1800,990) -- (1888,975);
  \draw[slide] (1846,853) -- (1846,928);
  \draw[walls] (1892,866) -- (1892,1145);
  \draw[rail] (1990,866) -- (1990,904) -- (1932,904) -- (1932,993);
  \door{1994}{866}{2053}{923}{1994}{923}
  \draw[walls] (2053,923) -- (2053,866) -- (2101,866);
  \draw[rail] (2066,868) -- (2066,993);
  \draw[walls] (1893,995) -- (1944,995) -- (1944,1050);
  \draw[walls] (2001,995) -- (2105,995);
  \door{2001}{997}{1944}{1050}{2001}{1050}
  \shower{2032}{999}{2101}{1063}{2068}{1029}
  \loo{2077}{1109}{17}{13}
  \draw[hair] (2097,1093) rectangle (2101,1124);
  \draw[hair] (1922,997) -- (1922,1023) -- (1934,1023) -- (1934,1116) -- (1922,1116) -- (1922,1143);
  \draw[hair] (1912,1071) ellipse [x radius=11,y radius=18];
  \draw[hair] (1935,550) rectangle (1977,691);
  \draw[hair] (1948,496) -- (1948,550) (1948,691) -- (1948,759);
  \draw[rail] (1812,484) -- (1812,360) -- (2279,360) -- (2279,484);
  \draw[rail] (1812,484) -- (1812,730) -- (1925,730);
  \draw[rail] (1132,430) -- (1132,341) -- (1514,341) -- (1514,684) -- (1453,684);
  \draw[hair] (942,510) -- (1119,510);
  \draw[hair,rounded corners=2pt] (952,448) rectangle (1109,501);
  \fill[ink] (1030,456) circle [radius=2];
  \loo{965}{532}{16}{11}
  \draw[hair] (942,518) rectangle (948,548);
  \draw[hair] (942,570) -- (975,570) -- (975,710);
  \draw[hair] (942,590) rectangle (970,626);
  \draw[hair] (942,656) rectangle (970,692);
  \shower{1044}{610}{1119}{710}{1082}{661}
  \draw[walls] (1044,716) -- (1122,716) (1044,716) -- (1044,760);
  \draw[walls] (942,713) -- (980,713);
  \door{1039}{656}{980}{712}{1039}{712}
  \draw[hair] (975,716) -- (975,834);
  \draw[walls] (1044,760) -- (1056,760) (1112,760) -- (1127,760);
  \door{1128}{704}{1185}{760}{1128}{760}
  \door{1400}{704}{1343}{760}{1400}{760}
  \draw[walls] (1187,763) -- (1343,763);
  \draw[rail] (1400,704) -- (1400,765);
  \draw[hair] (1407,505) -- (1407,763);
  \draw[walls] (1407,503) -- (1442,503) (1407,652) -- (1442,652);
  \draw[walls] (1187,763) -- (1187,803) -- (1259,803);
  \block{1259}{760}{1305}{805}
  \draw[hair] (1262,805) -- (1262,866);
  \draw[walls] (1303,805) -- (1303,866);
  \node[room] (balcW) at (1317,384) {Balcony};
  \node[room] (balcE) at (2032,416) {Balcony};
  \node[room] (bathF) at (1037,573) {Bath};
  \node[room] (bedN) at (1265,584) {Bedroom};
  \node[dims] (bedNdims) at (1264,624) {4.2 x 4.8};
  \node[tag] (closetE) at (1082,740) {S};
  \node[tag] (closetF) at (1224,783) {S};
  \node[tag] (closetH) at (1282,833) {S};
  \node[tag] (cupboardF) at (958,770) {C};
  \node[tag,rise] (birC) at (1426,470) {BIR};
  \node[tag,rise] (deskN) at (1426,578) {Desk};
  \node[tag,rise] (birD) at (1426,709) {BIR};
  \node[room] (bedS) at (1292,992) {Bedroom};
  \node[dims] (bedSdims) at (1292,1033) {4.7 x 4.1};
  \node[room] (void) at (1648,1024) {VOID};
  \node[wee] (dnG) at (1846,840) {Dn};
  \node[tag] (wirE) at (1995,950) {WIR};
  \node[room] (ensE) at (1999,1081) {Ens};
  \node[tag,rise] (deskE) at (1953,620) {Desk};
  \node[room] (bedE) at (2118,649) {Bedroom};
  \node[dims] (bedEdims) at (2118,690) {5.0 x 5.3};
  \node[level] (first) at (1250,1195) {FIRST FLOOR};
  \draw[wall] (1623,536) -- (1600,536) -- (1600,286) -- (1720,286) -- (1720,536) -- (1680,536);
  \draw[walls] (1623,478) -- (1623,536);
  \door{1623}{478}{1680}{531}{1623}{531}
  \node[room,rise] (shed) at (1643,406) {Shed};
  \node[dims,rise] (sheddims) at (1683,406) {1.7 x 3.8};
  \node[reg=6] (notin) at (1666,567) {(Not In Position)};
  \draw[rail] (2250,3118) circle [radius=62];
  \draw[hair] (2187,3128) -- (2312,3110);
  \draw[hair] (2250,3118) -- (2259,3179);
  \draw[ink,line width=1.5pt] (2250,3118) -- (2240,3058);
  \node[dims] (north) at (2238,3030) {N};
  \node[dims] (east) at (2337,3107) {E};
  \node[dims] (west) at (2161,3133) {W};
  \node[dims] (south) at (2263,3210) {S};
  \node[reg=9.5,anchor=west] (careA) at (116,3370) {Every care has been taken to verify the accuracy of details in this brochure. All measurements are approximate and prospective};
  \node[reg=9.5,anchor=west] (careB) at (116,3410) {purchasers are requested to take such action as is necessary to satisfy themselves of any pertinent matters. Not to scale.};
\end{tikzpicture}
\end{document}
